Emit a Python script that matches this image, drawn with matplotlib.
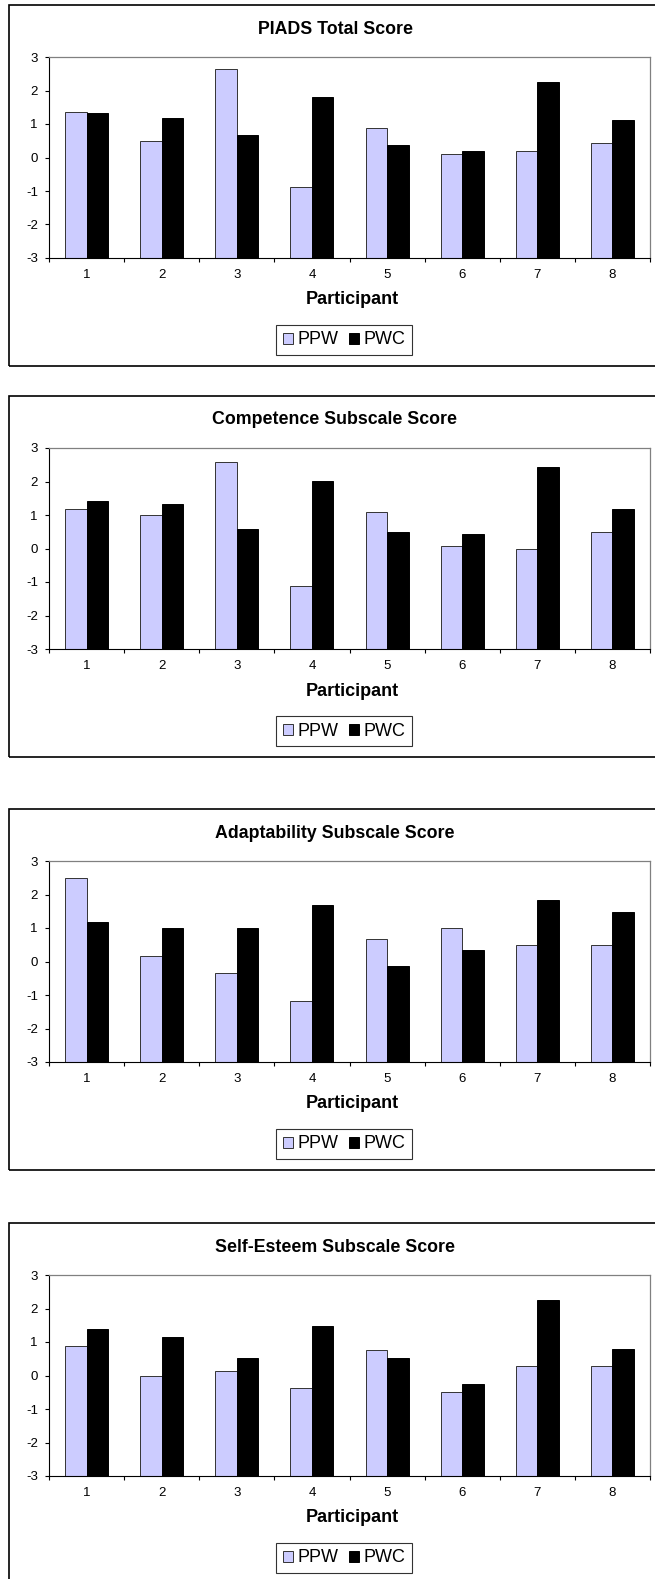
import numpy as np
import matplotlib
matplotlib.use('Agg')
import matplotlib.pyplot as plt
from matplotlib.patches import Patch, Rectangle

plt.rcParams['font.family'] = ['Liberation Sans', 'DejaVu Sans']

participants = [1, 2, 3, 4, 5, 6, 7, 8]

titles = ['PIADS Total Score', 'Competence Subscale Score',
          'Adaptability Subscale Score', 'Self-Esteem Subscale Score']

ppw_total = [1.37, 0.50, 2.63, -0.88, 0.89, 0.11, 0.19, 0.42]
pwc_total = [1.34, 1.19, 0.66, 1.80, 0.36, 0.20, 2.26, 1.12]

ppw_comp = [1.17, 0.99, 2.59, -1.11, 1.10, 0.08, 0.00, 0.49]
pwc_comp = [1.41, 1.33, 0.57, 2.02, 0.50, 0.42, 2.44, 1.18]

ppw_adapt = [2.50, 0.15, -0.35, -1.18, 0.68, 0.99, 0.50, 0.50]
pwc_adapt = [1.18, 0.99, 0.99, 1.68, -0.14, 0.35, 1.83, 1.49]

ppw_self = [0.88, 0.00, 0.12, -0.38, 0.77, -0.49, 0.28, 0.28]
pwc_self = [1.38, 1.14, 0.51, 1.49, 0.51, -0.25, 2.25, 0.78]

ppw_series = [ppw_total, ppw_comp, ppw_adapt, ppw_self]
pwc_series = [pwc_total, pwc_comp, pwc_adapt, pwc_self]

ppw_color = '#CCCCFF'
pwc_color = '#000000'

ymin, ymax = -3, 3   # value axis crosses at the minimum, bars rise from there

W, H = 655, 1579
fig = plt.figure(figsize=(W / 100, H / 100), dpi=100)

def fx(px):
    return px / W

def fy(py):
    return 1 - py / H

box_tops = [5, 396, 809, 1223]
box_h = 361
ax_left, ax_right = 49, 650
ax_h = 201

x = np.arange(1, len(participants) + 1)
bw = 0.286

for k, top in enumerate(box_tops):
    # outer chart frame
    fig.patches.append(Rectangle((fx(9), fy(top + box_h)), fx(660 - 9), box_h / H,
                                 transform=fig.transFigure, fill=False,
                                 edgecolor='black', linewidth=1.2))

    ax = fig.add_axes([fx(ax_left), fy(top + 52 + ax_h),
                       fx(ax_right - ax_left), ax_h / H])
    ppw = np.array(ppw_series[k])
    pwc = np.array(pwc_series[k])
    ax.bar(x - bw / 2, ppw - ymin, width=bw, bottom=ymin, color=ppw_color,
           edgecolor='#333333', linewidth=0.7, label='PPW')
    ax.bar(x + bw / 2, pwc - ymin, width=bw, bottom=ymin, color=pwc_color,
           edgecolor='black', linewidth=0.7, label='PWC')

    ax.set_xlim(0.5, len(participants) + 0.5)
    ax.set_ylim(ymin, ymax)
    ax.set_yticks(range(ymin, ymax + 1))
    ax.set_yticklabels([str(v) for v in range(ymin, ymax + 1)])
    ax.set_xticks(x)
    ax.set_xticklabels([str(p) for p in participants])
    ax.set_xticks(np.arange(0.5, len(participants) + 1), minor=True)
    ax.tick_params(axis='x', which='major', length=0, pad=8, labelsize=9.5)
    ax.tick_params(axis='x', which='minor', length=3, width=0.8, direction='out')
    ax.tick_params(axis='y', length=3, width=0.8, direction='out', pad=5, labelsize=9.5)

    for side in ['top', 'right']:
        ax.spines[side].set_color('#808080')
        ax.spines[side].set_linewidth(0.9)
    for side in ['left', 'bottom']:
        ax.spines[side].set_color('black')
        ax.spines[side].set_linewidth(0.8)

    fig.text(fx(335), fy(top + 24), titles[k], ha='center', va='center',
             fontsize=12.8, fontweight='bold')
    fig.text(fx(352), fy(top + 295), 'Participant', ha='center', va='center',
             fontsize=13, fontweight='bold')

    handles = [Patch(facecolor=ppw_color, edgecolor='#333333', linewidth=0.7),
               Patch(facecolor=pwc_color, edgecolor='black', linewidth=0.7)]
    leg = fig.legend(handles, ['PPW', 'PWC'], loc='center',
                     bbox_to_anchor=(fx(344), fy(top + 335)), ncol=2,
                     fontsize=13, frameon=True, fancybox=False,
                     handlelength=0.55, handleheight=0.55, handletextpad=0.25,
                     columnspacing=0.6, borderpad=0.35, borderaxespad=0)
    leg.get_frame().set_edgecolor('black')
    leg.get_frame().set_linewidth(0.8)

fig.savefig('out.png', dpi=100)
